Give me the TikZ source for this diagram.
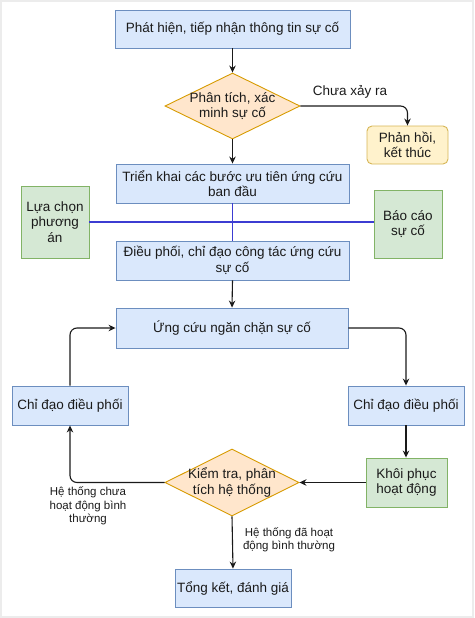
\documentclass[tikz,border=0pt]{standalone}
\usepackage{fontspec}
\setmainfont{Liberation Sans}
\usetikzlibrary{shapes.geometric,arrows.meta}
\definecolor{bfill}{HTML}{DAE8FC}\definecolor{bdraw}{HTML}{6C8EBF}
\definecolor{ofill}{HTML}{FFE6CC}\definecolor{odraw}{HTML}{D79B00}
\definecolor{gfill}{HTML}{D5E8D4}\definecolor{gdraw}{HTML}{82B366}
\definecolor{yfill}{HTML}{FFF2CC}\definecolor{ydraw}{HTML}{D6B656}
\definecolor{bline}{RGB}{60,60,210}
\definecolor{txtc}{HTML}{1A1A1A}
\begin{document}
\begin{tikzpicture}[x=1pt,y=-1pt,
  txt/.style={font=\fontsize{13.5}{15.5}\selectfont, text=txtc, align=center},
  small/.style={font=\fontsize{11.5}{13.3}\selectfont, text=txtc, align=center},
  box/.style={txt, rectangle, draw=bdraw, fill=bfill, line width=0.9pt, inner sep=0pt},
  gbox/.style={txt, rectangle, draw=gdraw, fill=gfill, line width=0.9pt, inner sep=0pt},
  ybox/.style={txt, rectangle, rounded corners=5pt, draw=ydraw, fill=yfill, line width=0.9pt, inner sep=0pt},
  dia/.style={diamond, draw=odraw, fill=ofill, line width=0.9pt, inner sep=0pt},
  arr/.style={draw=txtc, line width=1.1pt, -{Stealth[length=7pt,width=6.5pt]}},
  bl/.style={draw=bline, line width=1.2pt}]
\useasboundingbox (0,0) rectangle (474,618);
\draw[gray!15, line width=2pt] (1,1) rectangle (473,617);

\node[box, minimum width=235pt, minimum height=38pt] (b1) at (232.5,29) {Phát hiện, tiếp nhận thông tin sự cố};
\node[dia, minimum width=135pt, minimum height=66pt, label={[txt]center:Phân tích, xác\\minh sự cố}] (d1) at (232.5,106) {};
\node[ybox, minimum width=81pt, minimum height=38pt] (ph) at (407.5,145) {Phản hồi,\\kết thúc};
\node[box, minimum width=233pt, minimum height=39pt] (tk1) at (232.5,183.5) {Triển khai các bước ưu tiên ứng cứu\\ban đầu};
\node[gbox, minimum width=68pt, minimum height=72pt] (lc) at (55,222) {Lựa chọn\\phương\\án};
\node[gbox, minimum width=68pt, minimum height=68pt] (bc) at (408,224) {Báo cáo\\sự cố};
\node[box, minimum width=233pt, minimum height=39pt] (dp) at (232.5,260.5) {Điều phối, chỉ đạo công tác ứng cứu\\sự cố};
\node[box, minimum width=232pt, minimum height=40pt] (uc) at (232,328) {Ứng cứu ngăn chặn sự cố};
\node[box, minimum width=116pt, minimum height=39pt] (cl) at (70,405.5) {Chỉ đạo điều phối};
\node[box, minimum width=116pt, minimum height=39pt] (cr) at (406,405.5) {Chỉ đạo điều phối};
\node[gbox, minimum width=81pt, minimum height=49pt] (kp) at (406.5,482.5) {Khôi phục\\hoạt động};
\node[dia, minimum width=134pt, minimum height=67pt, label={[txt]center:Kiểm tra, phân\\tích hệ thống}] (d2) at (232,482.5) {};
\node[box, minimum width=116pt, minimum height=38pt] (tg) at (233,588) {Tổng kết, đánh giá};

\node[txt] (l1) at (350,92) {Chưa xảy ra};
\node[small] (l2) at (88,506) {Hệ thống chưa\\hoạt động bình\\thường};
\node[small] (l3) at (289,540) {Hệ thống đã hoạt\\động bình thường};

\draw[bl] (lc.east) -- (lc.east -| bc.west);
\draw[bl] (tk1.south) -- (dp.north);

\draw[arr] (b1.south) -- (d1.north);
\draw[arr, rounded corners=7pt] (d1.east) -| (ph.north);
\draw[arr] (d1.south) -- (tk1.north);
\draw[arr] (dp.south) -- (uc.north);
\draw[arr, rounded corners=7pt] (cl.north) |- (uc.west);
\draw[arr, rounded corners=7pt] (uc.east) -| (cr.north);
\draw[arr] (cr.south) -- (cr.south |- kp.north);
\draw[arr] (kp.west) -- (d2.east);
\draw[arr, rounded corners=7pt] (d2.west) -| (cl.south);
\draw[arr] (d2.south) -- (tg.north);
\end{tikzpicture}
\end{document}
